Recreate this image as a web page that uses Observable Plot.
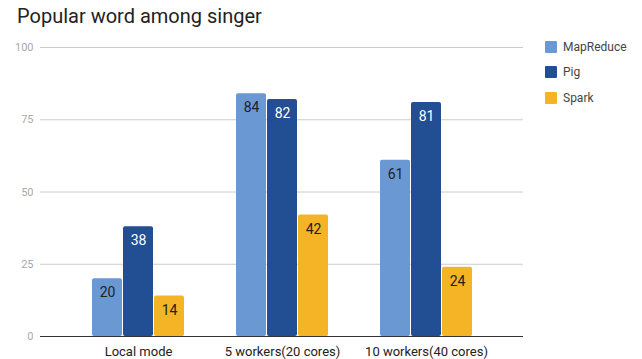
<!DOCTYPE html>
<html>
<head>
<meta charset="utf-8">
<script src="https://cdn.jsdelivr.net/npm/d3@7"></script>
<script src="https://cdn.jsdelivr.net/npm/@observablehq/plot@0.6"></script>
<style>
  html, body { margin: 0; padding: 0; background: #fff; }
  #wrap { position: relative; width: 642px; height: 359px; font-family: Roboto, "Noto Sans", sans-serif; }
  #title { position: absolute; left: 17px; top: 4px; font-size: 20px; color: #222; line-height: 24px; white-space: nowrap; }
  #back, #chart { position: absolute; left: 0; top: 36px; }
  #legend { position: absolute; left: 545px; top: 34px; font-size: 12px; color: #444; }
  .item { display: flex; align-items: center; height: 25.5px; }
  .sw { width: 12px; height: 12px; border-radius: 1px; margin-right: 6px; }
</style>
</head>
<body>
<div id="wrap">
  <div id="title">Popular word among singer</div>
  <div id="back"></div>
  <div id="chart"></div>
  <div id="legend"></div>
</div>
<script>
const groups = ["Local mode", "5 workers(20 cores)", "10 workers(40 cores)"];
const seriesNames = ["MapReduce", "Pig", "Spark"];
const mapReduce = [20, 84, 61];
const pig = [38, 82, 81];
const spark = [14, 42, 24];
const yTicks = [0, 25, 50, 75, 100];
const colors = ["#6a98d2", "#224e94", "#f5b326"];

const seriesValues = [mapReduce, pig, spark];
const data = [];
groups.forEach((g, gi) => {
  seriesNames.forEach((s, si) => {
    data.push({group: g, series: s, value: seriesValues[si][gi]});
  });
});

const common = {
  width: 642,
  height: 323,
  marginTop: 11,
  marginBottom: 23,
  marginLeft: 40,
  marginRight: 119,
  style: {fontFamily: "Roboto, 'Noto Sans', sans-serif", background: "transparent"}
};

// background: full-width grid, y axis, baseline
const back = Plot.plot({
  ...common,
  x: {axis: null},
  y: {domain: [0, 100], axis: null},
  marks: [
    Plot.ruleY(yTicks.filter(d => d !== 0), {stroke: "#cccccc", strokeWidth: 1}),
    Plot.axisY({ticks: yTicks, tickSize: 0, tickPadding: 7, fontSize: 11, color: "#aaaaaa", label: null}),
    Plot.ruleY([0], {stroke: "#333333", strokeWidth: 1})
  ]
});
document.getElementById("back").appendChild(back);

// foreground: grouped bars
const chart = Plot.plot({
  ...common,
  fx: {domain: groups, paddingInner: 0.35, paddingOuter: 0.35, label: null},
  x: {domain: seriesNames, padding: 0.03, axis: null},
  y: {domain: [0, 100], axis: null},
  color: {domain: seriesNames, range: colors},
  marks: [
    Plot.barY(data, {fx: "group", x: "series", y: "value", fill: "series", rx: 2}),
    Plot.text(data.filter(d => d.series !== "Pig"), {fx: "group", x: "series", y: "value", text: d => String(d.value), dy: 14, fill: "#222222", fontSize: 14}),
    Plot.text(data.filter(d => d.series === "Pig"), {fx: "group", x: "series", y: "value", text: d => String(d.value), dy: 14, fill: "#ffffff", fontSize: 14}),
    Plot.axisFx({anchor: "bottom", tickSize: 0, tickPadding: 10, fontSize: 13, color: "#222222", label: null})
  ]
});
document.getElementById("chart").appendChild(chart);

const legend = document.getElementById("legend");
seriesNames.forEach((s, i) => {
  const row = document.createElement("div");
  row.className = "item";
  const sw = document.createElement("div");
  sw.className = "sw";
  sw.style.background = colors[i];
  const t = document.createElement("span");
  t.textContent = s;
  row.appendChild(sw);
  row.appendChild(t);
  legend.appendChild(row);
});
</script>
</body>
</html>
